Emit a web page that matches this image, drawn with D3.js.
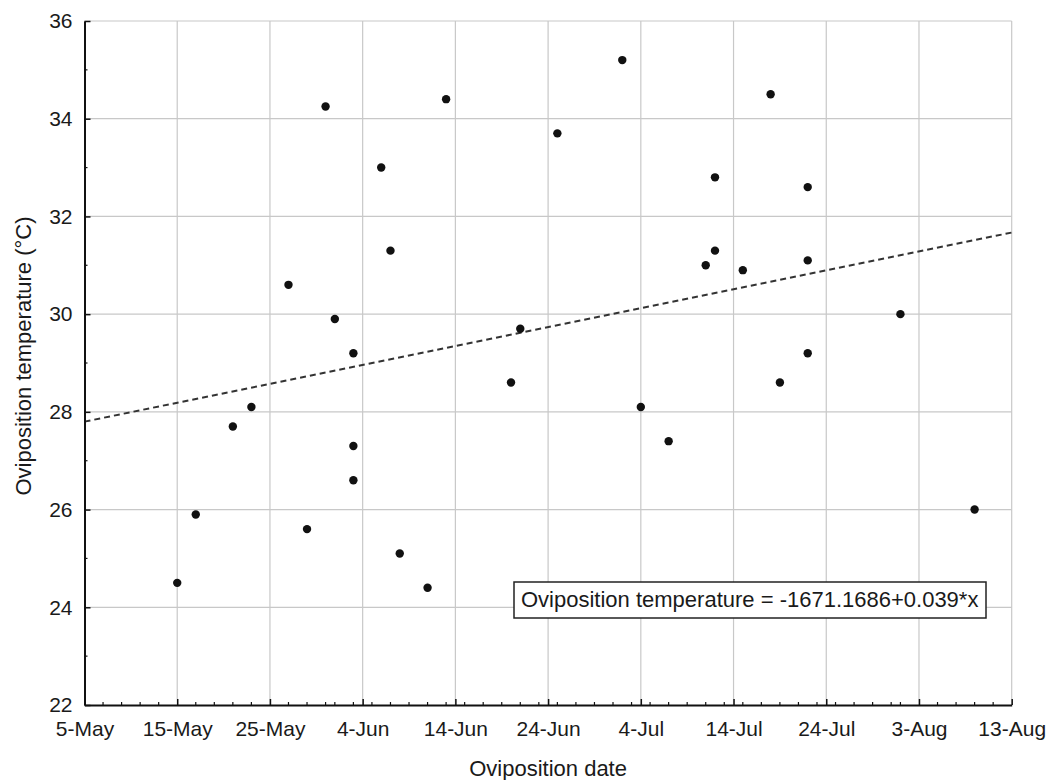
<!DOCTYPE html>
<html>
<head>
<meta charset="utf-8">
<script src="https://cdn.jsdelivr.net/npm/d3@7"></script>
<style>
  html, body { margin: 0; padding: 0; background: #fff; }
  svg { display: block; }
  text { font-family: "Liberation Sans", Arial, sans-serif; fill: #1a1a1a; }
</style>
</head>
<body>
<svg id="chart" width="1054" height="780"></svg>
<script>
// ---- data ----
const dates = [
  "2019-05-15","2019-05-17","2019-05-21","2019-05-23","2019-05-27","2019-05-29",
  "2019-05-31","2019-06-01","2019-06-03","2019-06-03","2019-06-03","2019-06-06",
  "2019-06-07","2019-06-08","2019-06-11","2019-06-13","2019-06-20","2019-06-21",
  "2019-06-25","2019-07-02","2019-07-04","2019-07-07","2019-07-11","2019-07-12",
  "2019-07-12","2019-07-15","2019-07-18","2019-07-19","2019-07-22","2019-07-22",
  "2019-07-22","2019-08-01","2019-08-09"
];
const temps = [
  24.5, 25.9, 27.7, 28.1, 30.6, 25.6,
  34.25, 29.9, 29.2, 27.3, 26.6, 33.0,
  31.3, 25.1, 24.4, 34.4, 28.6, 29.7,
  33.7, 35.2, 28.1, 27.4, 31.0, 32.8,
  31.3, 30.9, 34.5, 28.6, 32.6, 31.1,
  29.2, 30.0, 26.0
];
const trendDates = ["2019-05-05", "2019-08-13"];
const trendTemps = [27.8, 31.67];
const xTickDates = ["2019-05-05","2019-05-15","2019-05-25","2019-06-04","2019-06-14","2019-06-24",
                    "2019-07-04","2019-07-14","2019-07-24","2019-08-03","2019-08-13"];
const xTickLabels = ["5-May","15-May","25-May","4-Jun","14-Jun","24-Jun","4-Jul","14-Jul","24-Jul","3-Aug","13-Aug"];
const yTicks = [22, 24, 26, 28, 30, 32, 34, 36];
const yMinorTicks = [23, 25, 27, 29, 31, 33, 35];
const xTitle = "Oviposition date";
const yTitle = "Oviposition temperature (°C)";
const equationText = "Oviposition temperature = -1671.1686+0.039*x";

// ---- drawing ----
const parse = d3.utcParse("%Y-%m-%d");
const svg = d3.select("#chart");
const L = 84.5, R = 1011.7, T = 21, B = 705;

const x = d3.scaleUtc().domain([parse(xTickDates[0]), parse(xTickDates[xTickDates.length - 1])]).range([L, R]);
const y = d3.scaleLinear().domain([22, 36]).range([B, T]);

const xMajor = xTickDates.map(parse);
const xMinor = d3.utcDay.every(2).range(x.domain()[0], d3.utcDay.offset(x.domain()[1], 1))
  .filter(d => !xMajor.some(m => +m === +d));

// grid
const g = svg.append("g");
g.selectAll("line.vg").data(xMajor.slice(1)).join("line")
  .attr("x1", d => x(d)).attr("x2", d => x(d)).attr("y1", T).attr("y2", B)
  .attr("stroke", "#c8c8c8").attr("stroke-width", 1.2);
g.selectAll("line.hg").data(yTicks.slice(1)).join("line")
  .attr("x1", L).attr("x2", R).attr("y1", d => y(d)).attr("y2", d => y(d))
  .attr("stroke", "#c8c8c8").attr("stroke-width", 1.2);

// trend line
const line = d3.line().x(d => x(d[0])).y(d => y(d[1]));
svg.append("path")
  .datum(trendDates.map((d, i) => [parse(d), trendTemps[i]]))
  .attr("d", line).attr("fill", "none")
  .attr("stroke", "#333").attr("stroke-width", 2).attr("stroke-dasharray", "6,4");

// axes
const xAxis = d3.axisBottom(x).tickValues(xMajor).tickSizeInner(-6).tickSizeOuter(0)
  .tickFormat((d, i) => xTickLabels[i]).tickPadding(14);
const gx = svg.append("g").attr("transform", `translate(0,${B})`).call(xAxis);
gx.select(".domain").attr("stroke", "#111").attr("stroke-width", 2);
gx.selectAll(".tick line").attr("stroke", "#111").attr("stroke-width", 1.5);
gx.selectAll(".tick text").attr("font-size", 21).attr("font-family", "Liberation Sans, Arial, sans-serif")
  .attr("fill", "#1a1a1a").attr("dy", "0.71em").attr("y", 16);
gx.append("g").selectAll("line").data(xMinor).join("line")
  .attr("x1", d => x(d)).attr("x2", d => x(d)).attr("y1", 0).attr("y2", -3)
  .attr("stroke", "#111").attr("stroke-width", 1.2);

const yAxis = d3.axisLeft(y).tickValues(yTicks).tickSizeInner(-6).tickSizeOuter(0).tickPadding(12)
  .tickFormat(d3.format("d"));
const gy = svg.append("g").attr("transform", `translate(${L},0)`).call(yAxis);
gy.select(".domain").attr("stroke", "#111").attr("stroke-width", 2);
gy.selectAll(".tick line").attr("stroke", "#111").attr("stroke-width", 1.5);
gy.selectAll(".tick text").attr("font-size", 21).attr("font-family", "Liberation Sans, Arial, sans-serif")
  .attr("fill", "#1a1a1a").attr("x", -12);
gy.append("g").selectAll("line").data(yMinorTicks).join("line")
  .attr("x1", 0).attr("x2", 3).attr("y1", d => y(d)).attr("y2", d => y(d))
  .attr("stroke", "#111").attr("stroke-width", 1.2);

// points
svg.append("g").selectAll("circle").data(dates.map((d, i) => [parse(d), temps[i]])).join("circle")
  .attr("cx", d => x(d[0])).attr("cy", d => y(d[1])).attr("r", 4.2).attr("fill", "#111");

// equation box
const eq = svg.append("g");
eq.append("rect").attr("x", 514).attr("y", 582).attr("width", 472).attr("height", 36)
  .attr("fill", "#fff").attr("stroke", "#222").attr("stroke-width", 1.5);
eq.append("text").attr("x", 521).attr("y", 607).attr("font-size", 22).text(equationText);

// titles
svg.append("text").attr("x", (L + R) / 2).attr("y", 776).attr("text-anchor", "middle")
  .attr("font-size", 22).text(xTitle);
svg.append("text").attr("transform", `translate(31,356) rotate(-90)`)
  .attr("text-anchor", "middle").attr("font-size", 22).text(yTitle);
</script>
</body>
</html>
